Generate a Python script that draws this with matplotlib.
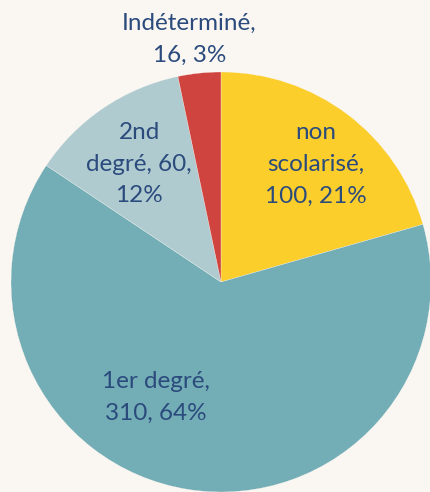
import matplotlib
matplotlib.use("Agg")
import matplotlib.pyplot as plt

categories = ["non\nscolarisé", "1er degré", "2nd\ndegré", "Indéterminé"]
values = [100, 310, 60, 16]
percents = ["21%", "64%", "12%", "3%"]
colors = ["#FBCE2C", "#73ADB5", "#AFCBD0", "#D0443F"]

label_texts = [
    "non\nscolarisé,\n100, 21%",
    "1er degré,\n310, 64%",
    "2nd\ndegré, 60,\n12%",
    "Indéterminé,\n16, 3%",
]
label_pos = [(0.45, 0.56), (-0.31, -0.55), (-0.39, 0.56), (-0.15, 1.155)]

bg = "#FAF7F3"
fig = plt.figure(figsize=(4.30, 4.92), dpi=100, facecolor=bg)
ax = fig.add_axes([11 / 430, 0, 420 / 430, 420 / 492])
ax.set_facecolor(bg)
ax.pie(values, colors=colors, startangle=90, counterclock=False,
       wedgeprops=dict(edgecolor=bg, linewidth=0.2), radius=1.0)
ax.set_xlim(-1, 1)
ax.set_ylim(-1, 1)
ax.set_aspect("equal")
ax.axis("off")
ax.set_clip_on(False)

for txt, (x, y) in zip(label_texts, label_pos):
    ax.text(x, y, txt, ha="center", va="center", fontsize=17.5,
            family="Lato", color="#2B4B7D", linespacing=1.62, clip_on=False)

fig.savefig("out.png", dpi=100, facecolor=bg)
